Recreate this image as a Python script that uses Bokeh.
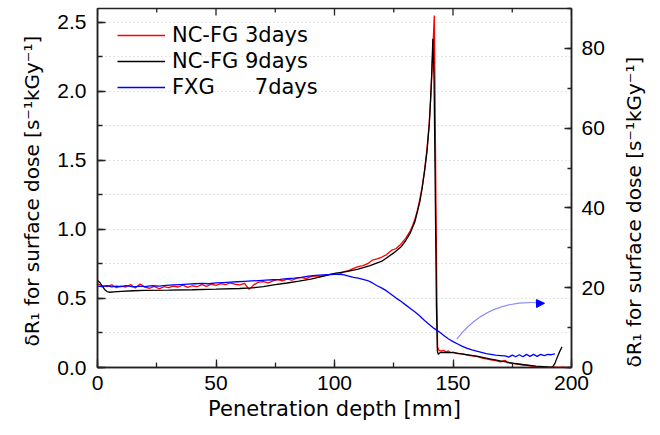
import math
from bokeh.plotting import figure
from bokeh.models import (Range1d, LinearAxis, SingleIntervalTicker, NumeralTickFormatter,
                          Legend, LegendItem, Arrow, NormalHead)
from bokeh.embed import file_html
from bokeh.resources import INLINE

# ---------------- data ----------------
red_x = [0, 2, 4, 6, 8, 10, 12, 14, 16, 18, 20, 22, 24, 26, 28, 30, 32, 34, 36, 38, 40, 42, 44, 46, 48,
         50, 52, 54, 56, 58, 60, 62, 64, 66, 68, 70, 72, 74, 76, 78, 80, 82, 84, 86, 88, 90, 92, 94, 96, 98,
         100, 102, 104, 106, 108, 110, 112, 114, 116, 118, 120, 122, 124, 126, 128, 130, 132, 133, 134, 135,
         136, 137, 138, 139, 140, 140.7, 141.3, 142.1, 142.4, 142.8, 143.2, 143.5, 144, 145, 146, 147, 148,
         149, 150, 152, 154, 156, 158, 160, 162, 164, 166, 168, 170, 172, 173, 175, 177, 179, 181, 183, 185,
         187, 190, 193, 195, 197]
red_y = [0.605, 0.592, 0.585, 0.598, 0.578, 0.590, 0.583, 0.600, 0.576, 0.605, 0.582, 0.574, 0.588, 0.570,
         0.585, 0.578, 0.590, 0.583, 0.596, 0.580, 0.592, 0.585, 0.600, 0.588, 0.603, 0.595, 0.608, 0.600,
         0.612, 0.603, 0.598, 0.610, 0.566, 0.600, 0.618, 0.622, 0.612, 0.628, 0.636, 0.628, 0.640, 0.632,
         0.645, 0.652, 0.644, 0.658, 0.664, 0.660, 0.668, 0.675, 0.678, 0.672, 0.695, 0.702, 0.718, 0.730,
         0.738, 0.752, 0.778, 0.786, 0.800, 0.818, 0.848, 0.862, 0.893, 0.935, 0.990, 1.030, 1.080, 1.140,
         1.220, 1.310, 1.430, 1.580, 1.780, 1.980, 2.220, 2.550, 2.000, 1.200, 0.500, 0.150, 0.125, 0.118,
         0.125, 0.112, 0.120, 0.108, 0.112, 0.100, 0.098, 0.090, 0.084, 0.080, 0.070, 0.062, 0.055, 0.050,
         0.040, 0.052, 0.035, 0.030, 0.025, 0.020, 0.018, 0.010, 0.004, 0.002, 0.000, 0.002, 0.000, 0.005]

black_x = [0, 1, 2, 3, 4, 5, 7, 10, 15, 20, 30, 40, 50, 60, 65, 70, 75, 80, 85, 90, 95, 100, 105, 110, 115,
           120, 125, 128, 130, 132, 134, 136, 137, 138, 139, 140, 140.5, 141, 141.5, 142.0, 142.5, 143.0,
           143.4, 143.8, 144.3, 145, 150, 155, 160, 165, 170, 175, 180, 185, 190, 192, 193, 194, 195, 196]
black_y = [0.630, 0.615, 0.590, 0.565, 0.550, 0.545, 0.548, 0.552, 0.556, 0.558, 0.560, 0.563, 0.567, 0.572,
           0.576, 0.585, 0.600, 0.612, 0.625, 0.640, 0.660, 0.682, 0.695, 0.712, 0.738, 0.770, 0.830, 0.872,
           0.918, 0.975, 1.060, 1.200, 1.300, 1.420, 1.560, 1.760, 1.930, 2.120, 2.380, 2.100, 1.300, 0.450,
           0.120, 0.095, 0.105, 0.110, 0.108, 0.095, 0.082, 0.065, 0.048, 0.032, 0.020, 0.010, 0.004, 0.003,
           0.030, 0.075, 0.115, 0.150]

blue_x = [0, 2, 4, 6, 8, 10, 12, 15, 18, 20, 23, 26, 29, 32, 35, 38, 41, 44, 47, 50, 53, 56, 59, 62, 65, 68,
          71, 74, 77, 80, 83, 86, 89, 92, 95, 98, 100, 102, 104, 106, 108, 110, 112, 114, 116, 118, 120, 122,
          124, 126, 128, 130, 132, 134, 136, 138, 140, 142, 144, 146, 148, 150, 152, 154, 156, 158, 160, 162,
          164, 166, 168, 170, 172, 173.5, 175, 176.5, 178, 179.5, 181, 182.5, 184, 185.5, 187, 188.5, 190,
          191.5, 193]
blue_y = [20.4, 20.3, 20.5, 20.2, 20.4, 20.3, 20.5, 20.2, 20.4, 20.3, 20.5, 20.4, 20.6, 20.7, 20.8, 20.9,
          21.0, 21.1, 21.0, 21.2, 21.3, 21.4, 21.5, 21.6, 21.7, 21.8, 21.9, 22.0, 22.1, 22.3, 22.4, 22.6,
          22.9, 23.1, 23.2, 23.3, 23.35, 23.4, 23.2, 22.9, 22.6, 22.4, 22.1, 21.8, 21.2, 20.5, 19.9, 19.2,
          18.3, 17.4, 16.6, 15.7, 14.8, 13.9, 12.9, 11.8, 10.8, 9.8, 9.0, 8.1, 7.2, 6.5, 5.9, 5.3, 4.8, 4.4,
          4.1, 3.8, 3.5, 3.3, 3.1, 3.0, 2.9, 2.6, 3.1, 2.7, 3.2, 2.7, 3.3, 2.8, 3.3, 2.8, 3.3, 3.0, 3.3, 3.2,
          3.4]

series_labels = ["NC-FG 3days", "NC-FG 9days", "FXG" + "\u00a0" * 6 + "7days"]
# curved annotation arrow (start, control, end) in right-axis units
arrow_x = [151.6, 165.0, 188.6]
arrow_y = [7.1, 17.6, 16.1]

x_ticks_major = 50
top_major_ticks = [0, 50, 100, 150, 200]
top_minor_ticks = [25, 75, 125, 175]
left_ticks_major = 0.5
right_ticks_major = 20
axis_title = "\u03b4R\u2081 for surface dose  [s\u207b\u00b9kGy\u207b\u00b9]"
x_title = "Penetration depth [mm]"

FONT = "Liberation Sans"
TFONT = "DejaVu Sans"
AX = "#222222"

p = figure(width=660, height=435, output_backend="svg", toolbar_location=None,
           x_range=Range1d(0, 200), y_range=Range1d(0, 2.6),
           min_border_left=97, min_border_right=82, min_border_top=8, min_border_bottom=68)
p.extra_y_ranges = {"right": Range1d(0, 90)}
p.outline_line_color = AX
p.outline_line_width = 1.5
p.background_fill_color = "white"
p.border_fill_color = "white"

def style_axis(ax, major_in=8, minor_in=5):
    ax.axis_line_color = AX
    ax.axis_line_width = 1.5
    ax.major_tick_line_color = AX
    ax.minor_tick_line_color = AX
    ax.major_tick_line_width = 1.3
    ax.minor_tick_line_width = 1.3
    ax.major_tick_in = major_in
    ax.major_tick_out = 0
    ax.minor_tick_in = minor_in
    ax.minor_tick_out = 0
    ax.major_label_text_font = FONT
    ax.major_label_text_font_size = "21px"
    ax.major_label_text_color = "black"
    ax.axis_label_text_font = TFONT
    ax.axis_label_text_font_size = "20px"
    ax.axis_label_text_font_style = "normal"
    ax.axis_label_text_color = "black"

# bottom axis
xa = p.xaxis[0]
xa.ticker = SingleIntervalTicker(interval=x_ticks_major, num_minor_ticks=2)
xa.axis_label = x_title
xa.major_label_standoff = 8
xa.axis_label_standoff = 4
style_axis(xa)
xa.axis_label_text_font_size = "21px"

# left axis
ya = p.yaxis[0]
ya.ticker = SingleIntervalTicker(interval=left_ticks_major, num_minor_ticks=2)
ya.formatter = NumeralTickFormatter(format="0.0")
ya.axis_label = axis_title
ya.major_label_standoff = 11
ya.axis_label_standoff = 10
style_axis(ya)

# right axis (title reads bottom-to-top like the left one)
ra = LinearAxis(y_range_name="right",
                ticker=SingleIntervalTicker(interval=right_ticks_major, num_minor_ticks=2))
ra.major_label_standoff = 10
style_axis(ra, major_in=7, minor_in=4)
ra.axis_label = axis_title
ra.axis_label_orientation = math.pi / 2
try:
    ra.axis_label_align = "start"
except AttributeError:
    pass
ra.axis_label_standoff = 26
p.add_layout(ra, "right")

# top frame ticks (pointing inward)
p.scatter(top_major_ticks, [2.6] * len(top_major_ticks), marker="dash", angle=math.pi / 2,
          size=14, line_color=AX, line_width=1.3)
p.scatter(top_minor_ticks, [2.6] * len(top_minor_ticks), marker="dash", angle=math.pi / 2,
          size=8, line_color=AX, line_width=1.3)

# grid
p.xgrid.visible = False
p.ygrid.ticker = SingleIntervalTicker(interval=0.25)
p.ygrid.grid_line_color = "#c8c8c8"
p.ygrid.grid_line_dash = "1 3"
p.ygrid.grid_line_width = 1

r_red = p.line(red_x, red_y, line_color="#ff0000", line_width=1.3)
r_black = p.line(black_x, black_y, line_color="#000000", line_width=1.3)
r_blue = p.line(blue_x, blue_y, line_color="#0000ff", line_width=1.3, y_range_name="right")

# annotation arrow
p.quadratic(x0=[arrow_x[0]], y0=[arrow_y[0]], cx=[arrow_x[1]], cy=[arrow_y[1]],
            x1=[arrow_x[2]], y1=[arrow_y[2]], line_color="#8a8aff", line_width=1.1,
            y_range_name="right")
p.add_layout(Arrow(end=NormalHead(size=8, fill_color="#0000ff", line_color="#0000ff", line_width=1),
                   x_start=arrow_x[2] - 2.5, y_start=arrow_y[2] - 0.05,
                   x_end=arrow_x[2], y_end=arrow_y[2],
                   line_alpha=0, y_range_name="right"))

legend = Legend(items=[LegendItem(label=series_labels[0], renderers=[r_red]),
                       LegendItem(label=series_labels[1], renderers=[r_black]),
                       LegendItem(label=series_labels[2], renderers=[r_blue])],
                location=(20, 268))
legend.background_fill_alpha = 0
legend.border_line_alpha = 0
legend.label_text_font = TFONT
legend.label_text_font_size = "21px"
legend.label_text_color = "black"
legend.glyph_width = 48
legend.glyph_height = 24
legend.label_height = 24
legend.label_standoff = 7
legend.spacing = 2
legend.padding = 0
legend.margin = 0
p.add_layout(legend)

open("out.html", "w").write(file_html(p, INLINE))
